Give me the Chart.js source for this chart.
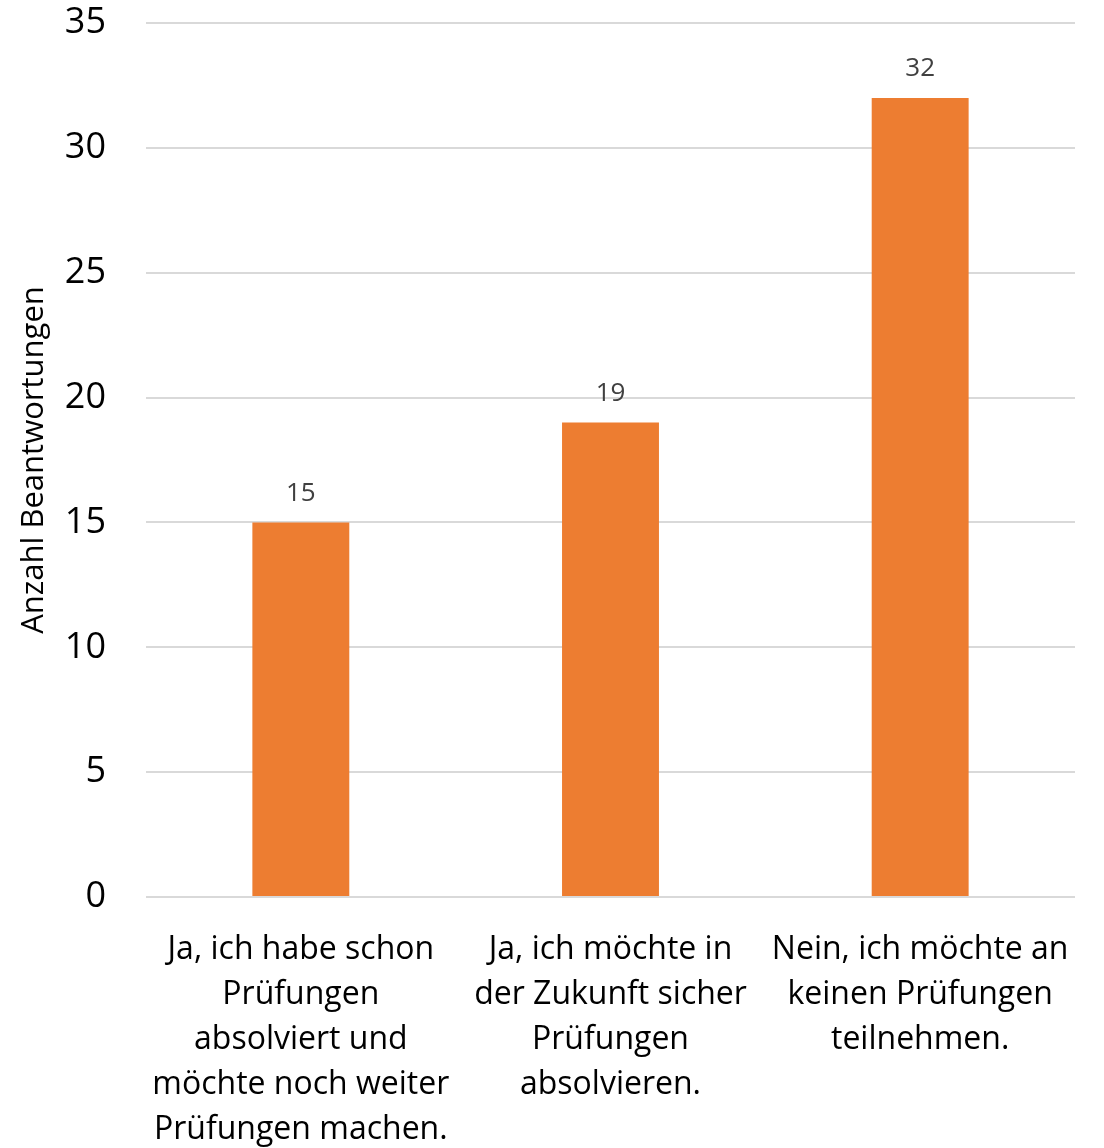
<!DOCTYPE html>
<html>
<head>
    <meta charset="utf-8">
    <title>Anzahl Beantwortungen</title>
    <script src="https://cdn.jsdelivr.net/npm/chart.js"></script>
    <style>
        html, body { margin: 0; padding: 0; background: #fff; }
    </style>
</head>
<body>
    <div style="width: 1104px; height: 1148px;">
        <canvas id="myChart"></canvas>
    </div>
    <script>
        // chart data
        const categories = [
            ['Ja, ich habe schon', 'Prüfungen', 'absolviert und', 'möchte noch weiter', 'Prüfungen machen.'],
            ['Ja, ich möchte in', 'der Zukunft sicher', 'Prüfungen', 'absolvieren.'],
            ['Nein, ich möchte an', 'keinen Prüfungen', 'teilnehmen.']
        ];
        const answers = [15, 19, 32];
        const yTicks = [0, 5, 10, 15, 20, 25, 30, 35];

        const fontFamily = "'Open Sans', 'Noto Sans', sans-serif";

        // draw the value above each bar
        const valueLabels = {
            id: 'valueLabels',
            afterDatasetsDraw(chart) {
                const ctx = chart.ctx;
                const meta = chart.getDatasetMeta(0);
                ctx.save();
                ctx.font = '26px ' + fontFamily;
                ctx.fillStyle = '#404040';
                ctx.textAlign = 'center';
                ctx.textBaseline = 'middle';
                meta.data.forEach((bar, i) => {
                    ctx.fillText(answers[i], bar.x, bar.y - 29);
                });
                ctx.restore();
            }
        };

        const ctx = document.getElementById('myChart').getContext('2d');
        const myChart = new Chart(ctx, {
            type: 'bar',
            data: {
                labels: categories,
                datasets: [
                    {
                        data: answers,
                        backgroundColor: '#ED7D31',
                        categoryPercentage: 1,
                        barPercentage: 0.313,
                    },
                ],
            },
            options: {
                responsive: true,
                maintainAspectRatio: false,
                animation: false,
                layout: { padding: { top: 0, right: 29, left: 0, bottom: 0 } },
                plugins: {
                    legend: { display: false },
                    tooltip: { enabled: false },
                },
                scales: {
                    x: {
                        grid: { display: false },
                        border: { display: false },
                        ticks: {
                            color: '#000',
                            font: { size: 32, family: fontFamily, lineHeight: 1.406 },
                            maxRotation: 0,
                            autoSkip: false,
                            padding: 22,
                        },
                        afterFit(axis) { axis.height = 251; },
                    },
                    y: {
                        min: 0,
                        max: 35,
                        afterBuildTicks(axis) {
                            axis.ticks = yTicks.map(v => ({ value: v }));
                        },
                        grid: { color: '#d9d9d9', lineWidth: 2, drawTicks: false },
                        border: { display: false },
                        ticks: {
                            color: '#000',
                            font: { size: 36, family: fontFamily },
                            padding: 40,
                        },
                        title: {
                            display: true,
                            text: 'Anzahl Beantwortungen',
                            color: '#000',
                            font: { size: 31, family: fontFamily },
                            padding: { top: 16, bottom: 0 },
                        },
                        afterFit(axis) {
                            axis.width = 146;
                            // tick padding would otherwise push the plot top down
                            axis.paddingTop = 23;
                            axis.paddingBottom = 0;
                        },
                    },
                },
            },
            plugins: [valueLabels],
        });
    </script>
</body>
</html>
